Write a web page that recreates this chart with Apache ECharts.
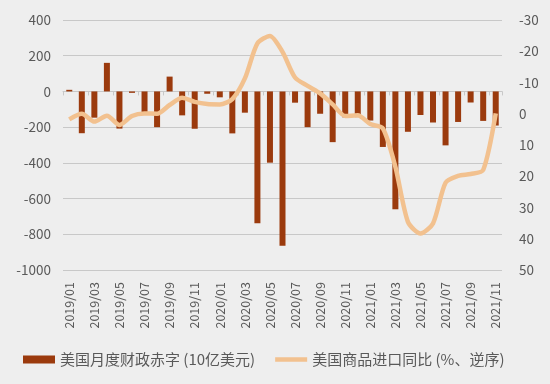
<!DOCTYPE html>
<html>
<head>
<meta charset="utf-8">
<script src="https://cdn.jsdelivr.net/npm/echarts@6/dist/echarts.min.js"></script>
<style>
html,body{margin:0;padding:0;background:#eeeeee;}
#main{width:550px;height:384px;}
</style>
</head>
<body>
<div id="main"></div>
<script>
const categories = ['2019/01','2019/02','2019/03','2019/04','2019/05','2019/06','2019/07','2019/08','2019/09','2019/10','2019/11','2019/12',
'2020/01','2020/02','2020/03','2020/04','2020/05','2020/06','2020/07','2020/08','2020/09','2020/10','2020/11','2020/12',
'2021/01','2021/02','2021/03','2021/04','2021/05','2021/06','2021/07','2021/08','2021/09','2021/10','2021/11'];
const deficit = [9,-234,-147,160,-208,-8,-120,-200,83,-134,-209,-13,
-33,-235,-119,-738,-399,-864,-63,-200,-125,-284,-145,-144,
-163,-311,-660,-226,-132,-174,-302,-171,-62,-165,-191];
const importsYoY = [1.8,0,2.5,0.6,3.6,0.7,-0.1,0,-2.8,-5.1,-3.8,-3.1,
-3.0,-4.7,-11.3,-22.5,-24.9,-19.8,-11.6,-8.9,-6.5,-3.0,0.7,0.5,
3.3,4.7,17,34.6,38.3,35.1,22.1,19.9,19.3,18,-0.1];
const seriesNames = ['美国月度财政赤字 (10亿美元)','美国商品进口同比 (%、逆序)'];

const font = '"Noto Sans CJK SC", "Noto Sans", sans-serif';
const chart = echarts.init(document.getElementById('main'));
chart.setOption({
  backgroundColor: '#eeeeee',
  animation: false,
  textStyle: {fontFamily: font},
  grid: {left: 63, right: 48, top: 20, bottom: 114},
  legend: {
    left: 23, top: 352, padding: 0,
    itemGap: 20,
    itemWidth: 32, itemHeight: 8,
    symbolKeepAspect: true,
    textStyle: {fontSize: 15, color: '#595959', fontFamily: font},
    data: [
      {name: seriesNames[0], icon: 'rect'},
      {name: seriesNames[1], icon: 'path://M0,0h70v10h-70z', itemStyle: {color: '#f2c18f'}}
    ]
  },
  xAxis: [{
    type: 'category',
    data: categories,
    position: 'bottom',
    axisLine: {show: false, onZero: false},
    axisTick: {show: false},
    axisLabel: {interval: 1, rotate: 90, margin: 12, fontSize: 12.5, color: '#595959', fontFamily: font}
  }, {
    type: 'category',
    data: categories,
    position: 'bottom',
    axisLine: {show: true, onZero: true, onZeroAxisIndex: 0, lineStyle: {color: '#c8c8c8', width: 1}},
    axisTick: {show: true, interval: 1, length: 4, lineStyle: {color: '#c8c8c8'}},
    axisLabel: {show: false}
  }],
  yAxis: [{
    type: 'value',
    min: -1000, max: 400, interval: 200,
    axisLine: {show: false},
    axisTick: {show: false},
    axisLabel: {fontSize: 13.5, color: '#595959', margin: 12, fontFamily: font, formatter: v => String(v)},
    splitLine: {lineStyle: {color: '#c8c8c8', width: 1}}
  }, {
    type: 'value',
    min: -30, max: 50, interval: 10, inverse: true,
    axisLine: {show: false},
    axisTick: {show: false},
    axisLabel: {fontSize: 13.5, color: '#595959', margin: 17, fontFamily: font, formatter: v => String(v)},
    splitLine: {show: false}
  }],
  series: [{
    name: seriesNames[0],
    type: 'bar',
    data: deficit,
    xAxisIndex: 0, yAxisIndex: 0,
    barWidth: 6,
    itemStyle: {color: '#9b3a0d'}
  }, {
    name: seriesNames[1],
    type: 'line',
    data: importsYoY,
    xAxisIndex: 0, yAxisIndex: 1,
    smooth: 0.25,
    symbol: 'none',
    lineStyle: {color: '#f2c18f', width: 4.5},
    itemStyle: {color: '#f2c18f'}
  }]
});
</script>
</body>
</html>
